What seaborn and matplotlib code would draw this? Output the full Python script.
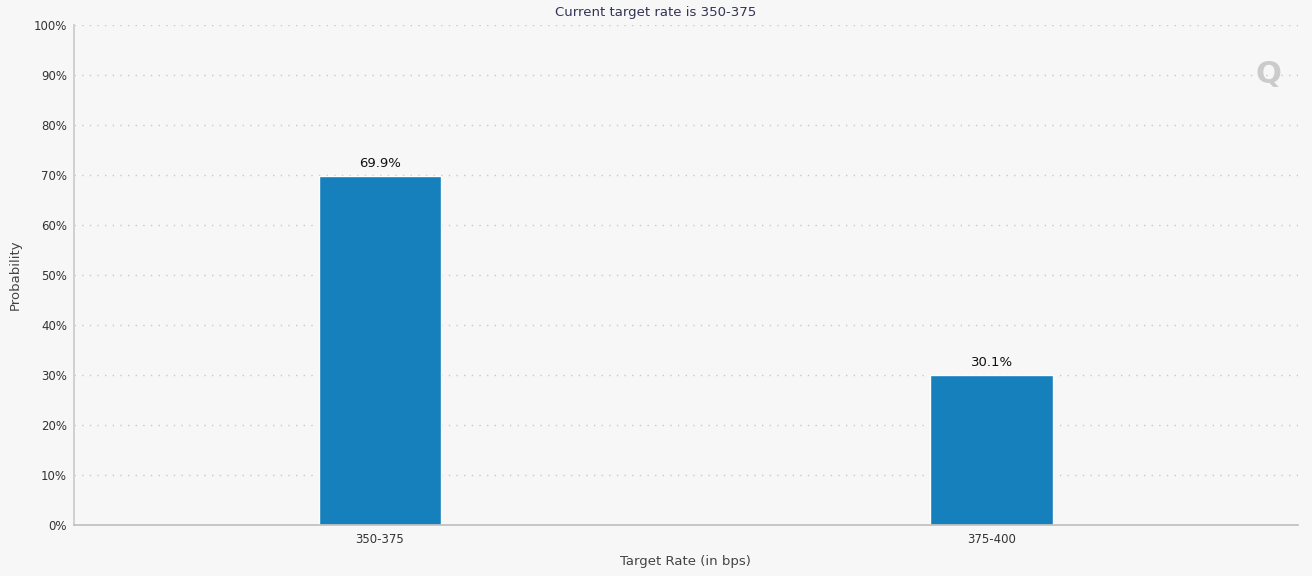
import matplotlib
matplotlib.use("Agg")
import matplotlib.pyplot as plt
import seaborn as sns
import pandas as pd
from matplotlib.ticker import PercentFormatter

# data
target_rates = ["350-375", "375-400"]
probabilities = [69.9, 30.1]
chart_title = "Current target rate is 350-375"

df = pd.DataFrame({"rate": target_rates, "prob": probabilities})

sns.set_theme(style="white")
plt.rcParams['font.family'] = ['DejaVu Sans']

bg = "#f7f7f7"
fig = plt.figure(figsize=(13.12, 5.76), dpi=100, facecolor=bg)
ax = fig.add_axes([0.0564, 0.0885, 0.9326, 0.868])
ax.set_facecolor(bg)

sns.barplot(data=df, x="rate", y="prob", color="#1580bb", saturation=1,
            width=0.2, ax=ax)

ax.set_ylim(0, 100)
ax.set_yticks(range(0, 101, 10))
ax.yaxis.set_major_formatter(PercentFormatter(decimals=0))
ax.grid(axis="y", linestyle=(0, (1, 4.5)), color="#c8c8c8", linewidth=1)
ax.set_axisbelow(True)

for s in ["top", "right"]:
    ax.spines[s].set_visible(False)
ax.spines["left"].set_color("#cccccc")
ax.spines["bottom"].set_color("#c0c0c0")

ax.tick_params(axis="both", labelsize=8.5, colors="#333333", length=0, pad=5)
ax.tick_params(axis="x", pad=6)

for c in ax.containers:
    ax.bar_label(c, labels=[f"{v:.1f}%" for v in probabilities], padding=4,
                 fontsize=9.5, color="#111111")

ax.set_xlabel("Target Rate (in bps)", fontsize=9.5, color="#444444", labelpad=6)
ax.set_ylabel("Probability", fontsize=9.5, color="#444444")
ax.yaxis.set_label_coords(-0.0425, 0.5)
fig.text(0.4995, 0.979, chart_title, ha="center", va="center",
         fontsize=9.5, color="#333355")

# watermark logo
fig.text(0.967, 0.87, "Q", ha="center", va="center", fontsize=22,
         fontweight="bold", color="#cbcbcb")

fig.savefig("out.png", dpi=100, facecolor=bg)
